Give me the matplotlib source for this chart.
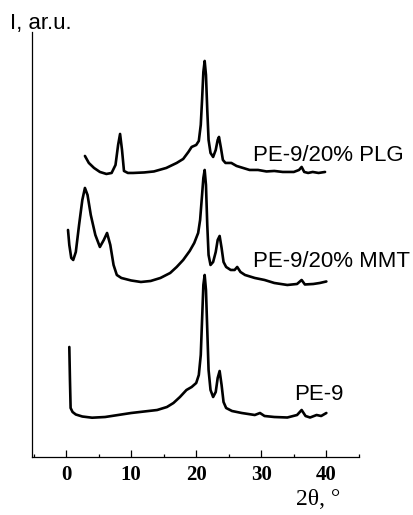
import matplotlib
matplotlib.use("Agg")
import matplotlib.pyplot as plt
from matplotlib.ticker import MultipleLocator

# Diffraction patterns (stacked for display), intensity in arbitrary units
pe9_2theta = [0.5, 0.6, 0.7, 1.0, 1.5, 2.5, 4.0, 6.0, 8.0, 10.0, 12.0, 14.0, 15.5, 16.5,
              17.5, 18.5, 19.3, 20.0, 20.4, 20.7, 20.9, 21.1, 21.3, 21.5, 21.7, 21.9,
              22.2, 22.6, 23.0, 23.3, 23.6, 23.9, 24.2, 24.6, 25.5, 27.0, 29.0, 29.8,
              30.5, 32.0, 34.0, 35.5, 36.2, 36.8, 37.5, 38.5, 39.2, 40.0]
pe9_int = [110, 77, 49, 45, 42.5, 40.5, 39.3, 40, 42, 44, 45.5, 47, 50, 54,
           60, 67, 70, 74, 82, 102, 137, 172, 182, 167, 127, 87,
           67, 60, 65, 79, 86, 72, 55, 49, 46, 44, 42, 44,
           41, 40, 39.5, 42, 47, 41, 39.5, 42, 41, 44]

mmt_2theta = [0.3, 0.5, 0.8, 1.1, 1.5, 2.0, 2.5, 2.9, 3.3, 3.8, 4.5, 5.2, 5.8, 6.3, 6.8,
              7.3, 7.8, 8.5, 10.0, 11.5, 13.0, 14.5, 16.0, 17.0, 18.0, 19.0, 19.7, 20.3,
              20.6, 20.9, 21.1, 21.3, 21.5, 21.7, 21.9, 22.2, 22.6, 23.0, 23.3, 23.6,
              23.9, 24.2, 24.6, 25.3, 25.9, 26.3, 26.8, 27.5, 29.0, 30.5, 32.0, 34.0,
              35.5, 36.2, 36.7, 38.0, 39.0, 40.0]
mmt_int = [227, 212, 199, 197, 205, 232, 257, 269, 262, 242, 222, 210, 217, 224, 212,
           192, 182, 179, 176.5, 175, 176, 179, 184, 190, 197, 206, 214, 224,
           237, 262, 279, 287, 272, 232, 202, 192, 195, 205, 217, 221,
           209, 195, 190, 187, 187, 190, 185, 182, 179, 177, 174, 172,
           173, 177, 172.5, 173, 174, 175.5]

plg_2theta = [2.9, 3.5, 4.3, 5.2, 6.2, 7.0, 7.6, 8.0, 8.3, 8.6, 8.9, 9.5, 10.3, 12.0,
              13.5, 15.4, 17.0, 18.0, 18.8, 19.3, 20.0, 20.4, 20.7, 20.9, 21.1, 21.3,
              21.5, 21.7, 21.9, 22.2, 22.6, 23.0, 23.3, 23.5, 23.8, 24.1, 24.5, 25.4,
              26.2, 27.2, 28.2, 29.5, 30.8, 32.0, 33.3, 35.0, 35.8, 36.2, 36.6, 37.2,
              37.9, 38.8, 39.8]
plg_int = [301, 294, 289, 285, 283, 284, 292, 312, 323, 307, 286, 284, 284, 284.5,
           285.5, 289, 294, 298, 305, 310, 312, 316, 332, 357, 385, 396,
           382, 347, 317, 304, 300, 307, 317, 320, 309, 297, 294, 294,
           291, 289, 287, 287, 285.5, 286, 285, 285, 287, 290, 285, 284,
           285, 284, 285]

series_labels = ["PE-9", "PE-9/20% MMT", "PE-9/20% PLG"]
label_pos = [(35.1, 62), (28.8, 195), (28.7, 301)]
xticks = [0, 10, 20, 30, 40]

fig = plt.figure(figsize=(4.13, 5.15), dpi=100)
ax = fig.add_axes([0.078, 0.1126, 0.791, 0.8254])

for tt, ii in [(pe9_2theta, pe9_int), (mmt_2theta, mmt_int), (plg_2theta, plg_int)]:
    ax.plot(tt, ii, color="black", lw=1.9, solid_joinstyle="round", solid_capstyle="round")

for lab, (x, y) in zip(series_labels, label_pos):
    ax.text(x, y, lab, family="Liberation Sans", fontsize=16, va="center", ha="left")

ax.set_xlim(-5.2, 45)
ax.set_ylim(0, 425)
ax.spines["top"].set_visible(False)
ax.spines["right"].set_visible(False)
for s in ("left", "bottom"):
    ax.spines[s].set_linewidth(0.9)
ax.set_yticks([])
ax.set_xticks(xticks)
ax.xaxis.set_minor_locator(MultipleLocator(5))
ax.tick_params(axis="x", which="major", direction="in", length=5, width=0.9, pad=6)
ax.tick_params(axis="x", which="minor", direction="in", length=2.5, width=0.9)
for lbl in ax.get_xticklabels():
    lbl.set_family("Liberation Serif")
    lbl.set_fontweight("bold")
    lbl.set_fontsize(15)

fig.text(10 / 413, 1 - 29 / 515, "I, ar.u.", family="Liberation Sans", fontsize=16,
         ha="left", va="baseline")
fig.text(318 / 413, 1 - 505 / 515, "2θ, °", family="Liberation Serif", fontsize=17,
         ha="center", va="baseline")

fig.savefig("out.png", dpi=100)
